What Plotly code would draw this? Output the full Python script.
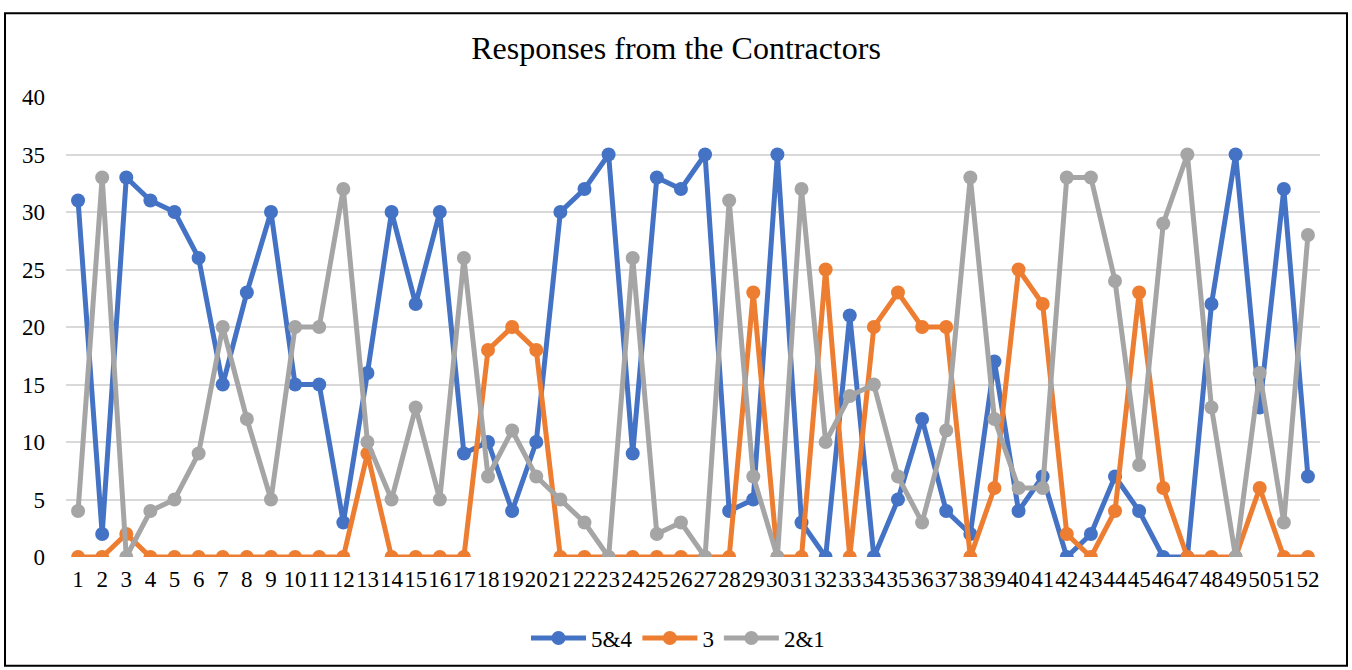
import plotly.graph_objects as go

categories = [str(i) for i in range(1, 53)]
s54 = [31, 2, 33, 31, 30, 26, 15, 23, 30, 15, 15, 3, 16, 30, 22, 30, 9, 10, 4, 10,
       30, 32, 35, 9, 33, 32, 35, 4, 5, 35, 3, 0, 21, 0, 5, 12, 4, 2, 17, 4,
       7, 0, 2, 7, 4, 0, 0, 22, 35, 13, 32, 7]
s3 = [0, 0, 2, 0, 0, 0, 0, 0, 0, 0, 0, 0, 9, 0, 0, 0, 0, 18, 20, 18,
      0, 0, 0, 0, 0, 0, 0, 0, 23, 0, 0, 25, 0, 20, 23, 20, 20, 0, 6, 25,
      22, 2, 0, 4, 23, 6, 0, 0, 0, 6, 0, 0]
s21 = [4, 33, 0, 4, 5, 9, 20, 12, 5, 20, 20, 32, 10, 5, 13, 5, 26, 7, 11, 7,
       5, 3, 0, 26, 2, 3, 0, 31, 7, 0, 32, 10, 14, 15, 7, 3, 11, 33, 12, 6,
       6, 33, 33, 24, 8, 29, 35, 13, 0, 16, 3, 28]
series_names = ["5&4", "3", "2&1"]
series_colors = ["#4472C4", "#ED7D31", "#A5A5A5"]
y_ticks = [0, 5, 10, 15, 20, 25, 30, 35, 40]

fig = go.Figure()
for name, vals, col in zip(series_names, [s54, s3, s21], series_colors):
    fig.add_trace(go.Scatter(
        x=categories, y=vals, name=name, mode="lines+markers",
        line=dict(color=col, width=5),
        marker=dict(color=col, size=14),
    ))

W, H = 1352, 670
ml, mr, mt, mb = 66, 32, 97, 112
pw, ph = W - ml - mr, H - mt - mb

def px_x(p):
    return (p - ml) / pw

def px_y(p):
    return (H - mb - p) / ph

fig.add_shape(type="rect", xref="paper", yref="paper",
              x0=px_x(5), x1=px_x(1347), y0=px_y(667), y1=px_y(13),
              line=dict(color="black", width=2), fillcolor="rgba(0,0,0,0)", layer="below")

serif = "Liberation Serif, Times New Roman, serif"
fig.update_layout(
    width=W, height=H,
    margin=dict(l=ml, r=mr, t=mt, b=mb),
    paper_bgcolor="white", plot_bgcolor="white",
    font=dict(family=serif, size=23, color="black"),
    title=dict(text="Responses from the Contractors", x=0.5, xref="container", xanchor="center",
               y=1 - 48 / H, yanchor="middle",
               font=dict(size=32, color="black", family=serif)),
    legend=dict(orientation="h", x=px_x(678), xref="paper", xanchor="center", y=px_y(638), yanchor="middle",
                font=dict(size=23), traceorder="normal", itemwidth=55),
    showlegend=True,
)
fig.update_xaxes(type="category", range=[-0.5, 51.5], tickmode="array", tickvals=categories,
                 ticktext=categories, tickangle=0, showgrid=False, showline=False, zeroline=False,
                 ticks="", ticklabelstandoff=6, tickfont=dict(size=23))
fig.update_yaxes(range=[0, 40], tickvals=y_ticks, showgrid=True, gridcolor="#D9D9D9", gridwidth=2,
                 zeroline=False, showline=False, ticks="", ticklabelstandoff=20, tickfont=dict(size=23))

fig.write_html("out.html", config={"displayModeBar": False},
               post_script="document.body.style.margin='0px';document.body.style.overflow='hidden';")
